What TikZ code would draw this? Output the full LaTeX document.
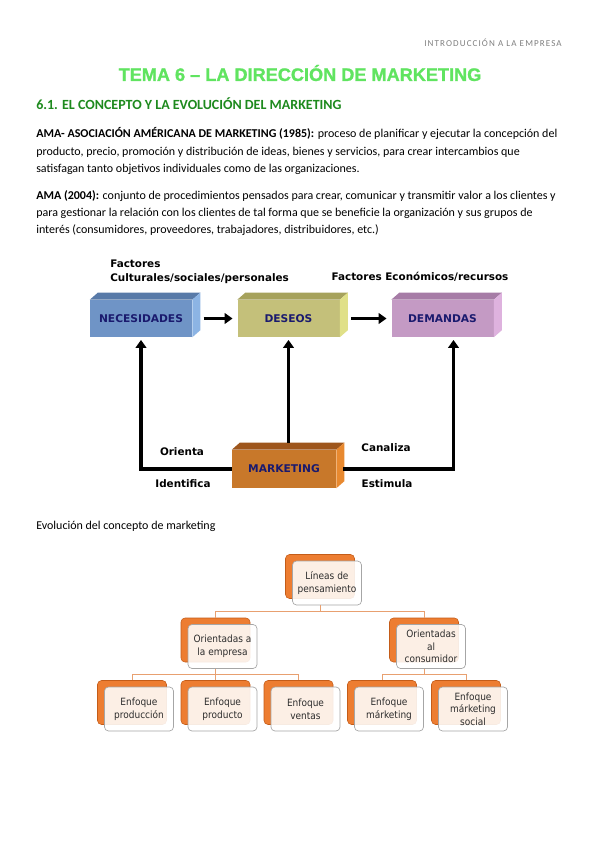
\documentclass[tikz,border=0pt]{standalone}
\usepackage{fontspec}
\setmainfont{Carlito}
\newfontfamily\titlefont[BoldFeatures={FakeBold=1.2}]{Liberation Sans}
\newfontfamily\verdfont{DejaVu Sans}
\newfontfamily\tahfont{DejaVu Sans Condensed}
\newfontfamily\headfont[LetterSpace=12]{Carlito}
\usetikzlibrary{arrows.meta,positioning,calc}

\definecolor{titlegreen}{RGB}{96,228,96}
\definecolor{secgreen}{RGB}{30,138,30}
\definecolor{boxnavy}{RGB}{26,26,110}
\definecolor{necfront}{RGB}{111,148,198}
\definecolor{nectop}{RGB}{88,122,168}
\definecolor{necside}{RGB}{140,180,228}
\definecolor{desfront}{RGB}{196,192,122}
\definecolor{destop}{RGB}{166,162,92}
\definecolor{desside}{RGB}{224,224,136}
\definecolor{demfront}{RGB}{196,154,196}
\definecolor{demtop}{RGB}{166,124,166}
\definecolor{demside}{RGB}{222,178,222}
\definecolor{mktfront}{RGB}{200,120,42}
\definecolor{mkttop}{RGB}{158,86,28}
\definecolor{mktside}{RGB}{232,137,47}
\definecolor{orgorange}{RGB}{237,125,49}
\definecolor{orgedge}{RGB}{196,92,24}
\definecolor{orgconn}{RGB}{232,160,112}
\definecolor{orgtext}{RGB}{45,45,45}

% top and right faces of a box node
\newcommand{\cubefaces}[3]{%
  \fill[#2] (#1.north west) -- ++(8,-7) -- ($(#1.north east)+(8,-7)$) -- (#1.north east) -- cycle;
  \fill[#3] (#1.north east) -- ($(#1.north east)+(8,-7)$) -- ($(#1.south east)+(8,-7)$) -- (#1.south east) -- cycle;}

\begin{document}
\begin{tikzpicture}[x=0.75pt,y=-0.75pt,>=Triangle,
  bodytxt/.style={anchor=base west,inner sep=0pt,font=\fontsize{9}{11}\selectfont},
  cubefront/.style={minimum width=76.5pt,minimum height=27.75pt,inner sep=0pt,font=\verdfont\bfseries\fontsize{8}{9}\selectfont,text=boxnavy},
  lbl/.style={inner sep=0pt,font=\verdfont\bfseries\fontsize{7.8}{10.5}\selectfont},
  bigarrow/.style={line width=2.6pt,-{Triangle[length=6pt,width=8pt]}},
  orgback/.style={rounded corners=3pt,fill=orgorange,draw=orgedge,line width=0.4pt,minimum width=51.75pt,minimum height=33pt,inner sep=0pt},
  orgfront/.style={rounded corners=3pt,fill=white,fill opacity=0.88,text opacity=1,draw=gray!70,line width=0.5pt,minimum width=51.75pt,minimum height=33pt,inner sep=0pt,align=center,font=\tahfont\fontsize{7.5}{9.5}\selectfont,text=orgtext},
  orgline/.style={draw=orgconn,line width=0.6pt}]
\fill[white] (0,0) rectangle (599,848);
\useasboundingbox (0,0) rectangle (599,848);

% page text
\node[anchor=east,inner sep=0pt,font=\headfont\fontsize{6.8}{8}\selectfont,text=gray] (head) at (562,43) {INTRODUCCIÓN A LA EMPRESA};
\node[font=\titlefont\bfseries\fontsize{13.6}{16}\selectfont,text=titlegreen] (title) at (300,73) {TEMA 6 – LA DIRECCIÓN DE MARKETING};
\node[anchor=west,inner sep=0pt,font=\bfseries\fontsize{10.5}{12}\selectfont,text=secgreen] (sec) at (36,104) {6.1. EL CONCEPTO Y LA EVOLUCIÓN DEL MARKETING};
\node[bodytxt] (p1a) at (36,137.5) {\textbf{AMA- ASOCIACIÓN AMÉRICANA DE MARKETING (1985):} proceso de planificar y ejecutar la concepción del};
\node[bodytxt] (p1b) at (36,155.5) {producto, precio, promoción y distribución de ideas, bienes y servicios, para crear intercambios que};
\node[bodytxt] (p1c) at (36,172.5) {satisfagan tanto objetivos individuales como de las organizaciones.};
\node[bodytxt] (p2a) at (36,199.5) {\textbf{AMA (2004):} conjunto de procedimientos pensados para crear, comunicar y transmitir valor a los clientes y};
\node[bodytxt] (p2b) at (36,216.5) {para gestionar la relación con los clientes de tal forma que se beneficie la organización y sus grupos de};
\node[bodytxt] (p2c) at (36,233.5) {interés (consumidores, proveedores, trabajadores, distribuidores, etc.)};
\node[bodytxt] (evo) at (36,529) {Evolución del concepto de marketing};

% marketing diagram
\node[lbl,align=left,anchor=west] (fac1) at (110,272) {Factores\\Culturales/sociales/personales};
\node[lbl] (fac2) at (420,277) {Factores Económicos/recursos};
\node[cubefront,fill=necfront] (nec) at (141,318.5) {NECESIDADES};
\node[cubefront,fill=desfront] (des) at (288.5,318.5) {DESEOS};
\node[cubefront,fill=demfront] (dem) at (442.5,318.5) {DEMANDAS};
\node[cubefront,fill=mktfront,minimum width=78pt,minimum height=28.5pt] (mkt) at (284,469) {MARKETING};
\cubefaces{nec}{nectop}{necside}
\cubefaces{des}{destop}{desside}
\cubefaces{dem}{demtop}{demside}
\cubefaces{mkt}{mkttop}{mktside}
\draw[bigarrow,shorten <=8.5pt,shorten >=3.5pt] (nec) -- (des);
\draw[bigarrow,shorten <=8.5pt,shorten >=3.5pt] (des) -- (dem);
\draw[bigarrow,shorten >=2pt] (mkt.west) -| (nec.south);
\draw[bigarrow,shorten >=2pt] ([yshift=5.25pt]mkt.north -| des.south) -- (des.south);
\draw[bigarrow,shorten >=2pt] ([xshift=5.25pt]mkt.east) -| ([xshift=8.25pt]dem.south);
\node[lbl] (ori) at (182,452) {Orienta};
\node[lbl] (ide) at (183,484) {Identifica};
\node[lbl] (can) at (386,448) {Canaliza};
\node[lbl] (est) at (387,484) {Estimula};

% evolution chart
\node[orgback] (lin) at (320,576.5) {};
\node[orgback] (emp) at (215.5,640) {};
\node[orgback] (con) at (424,640) {};
\node[orgback] (prod) at (132,702.5) {};
\node[orgback] (prdt) at (215.5,702.5) {};
\node[orgback] (vent) at (298.5,702.5) {};
\node[orgback] (mark) at (382,702.5) {};
\node[orgback] (soc) at (466,702.5) {};
\node[orgfront] (linF) at ($(lin)+(7,6.5)$) {Líneas de\\pensamiento};
\node[orgfront] (empF) at ($(emp)+(7,6.5)$) {Orientadas a\\la empresa};
\node[orgfront] (conF) at ($(con)+(7,6.5)$) {Orientadas\\al\\consumidor};
\node[orgfront] (prodF) at ($(prod)+(7,6.5)$) {Enfoque\\producción};
\node[orgfront] (prdtF) at ($(prdt)+(7,6.5)$) {Enfoque\\producto};
\node[orgfront] (ventF) at ($(vent)+(7,6.5)$) {Enfoque\\ventas};
\node[orgfront] (markF) at ($(mark)+(7,6.5)$) {Enfoque\\márketing};
\node[orgfront] (socF) at ($(soc)+(7,6.5)$) {Enfoque\\márketing\\social};
\coordinate (j1) at (320,611);
\coordinate (j2) at (215.5,674);
\coordinate (j3) at (424,674);
\draw[orgline] (lin |- linF.south) -- (j1) -| (emp.north);
\draw[orgline] (j1) -| (con.north);
\draw[orgline] (emp |- empF.south) -- (j2) -- (prdt.north);
\draw[orgline] (j2) -| (prod.north);
\draw[orgline] (j2) -| (vent.north);
\draw[orgline] (con |- conF.south) -- (j3) -| (mark.north);
\draw[orgline] (j3) -| (soc.north);
\end{tikzpicture}
\end{document}
